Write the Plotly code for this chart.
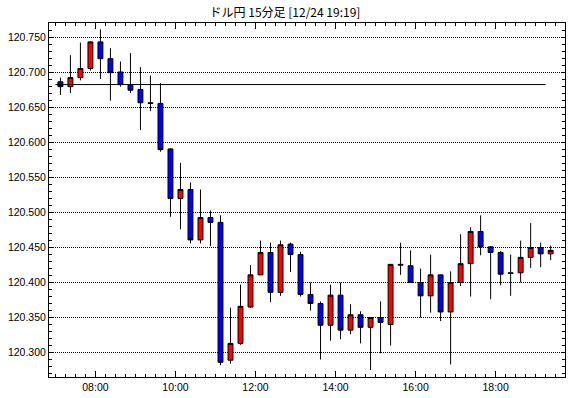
import pandas as pd
import plotly.graph_objects as go

# ---- data ----
times = pd.date_range("2015-12-24 07:00", "2015-12-24 19:15", freq="15min")
opens = [120.687, 120.680, 120.693, 120.706, 120.744, 120.720, 120.701, 120.682, 120.676, 120.657,
         120.656, 120.591, 120.520, 120.533, 120.461, 120.493, 120.486, 120.289, 120.313, 120.365,
         120.411, 120.443, 120.386, 120.455, 120.440, 120.383, 120.370, 120.339, 120.382, 120.332,
         120.354, 120.336, 120.350, 120.340, 120.426, 120.424, 120.400, 120.381, 120.411, 120.358,
         120.400, 120.427, 120.473, 120.451, 120.443, 120.414, 120.414, 120.436, 120.450, 120.441]
highs = [120.693, 120.725, 120.743, 120.745, 120.762, 120.735, 120.716, 120.728, 120.708, 120.696,
         120.685, 120.592, 120.571, 120.543, 120.533, 120.503, 120.496, 120.364, 120.397, 120.425,
         120.460, 120.457, 120.460, 120.457, 120.444, 120.400, 120.373, 120.397, 120.400, 120.369,
         120.359, 120.350, 120.373, 120.426, 120.457, 120.446, 120.420, 120.440, 120.411, 120.416,
         120.469, 120.479, 120.496, 120.452, 120.445, 120.440, 120.460, 120.485, 120.457, 120.453]
lows = [120.668, 120.671, 120.689, 120.703, 120.691, 120.660, 120.680, 120.671, 120.618, 120.645,
        120.587, 120.494, 120.476, 120.456, 120.456, 120.452, 120.282, 120.284, 120.311, 120.364,
        120.411, 120.372, 120.381, 120.415, 120.380, 120.360, 120.290, 120.317, 120.319, 120.326,
        120.313, 120.275, 120.299, 120.310, 120.411, 120.400, 120.350, 120.357, 120.345, 120.283,
        120.395, 120.380, 120.439, 120.376, 120.396, 120.381, 120.400, 120.421, 120.422, 120.432]
closes = [120.680, 120.693, 120.706, 120.744, 120.720, 120.700, 120.683, 120.675, 120.657, 120.656,
          120.590, 120.520, 120.533, 120.461, 120.493, 120.486, 120.286, 120.313, 120.366, 120.411,
          120.443, 120.386, 120.454, 120.440, 120.383, 120.370, 120.339, 120.382, 120.332, 120.354,
          120.336, 120.350, 120.343, 120.426, 120.425, 120.400, 120.381, 120.411, 120.358, 120.400,
          120.427, 120.473, 120.451, 120.443, 120.412, 120.413, 120.436, 120.450, 120.441, 120.446]
ref_price = 120.683
title_text = "ドル円 15分足 [12/24 19:19]"

# candles drawn at the middle of each 15-minute interval
xpos = times + pd.Timedelta(minutes=7.5)

fig = go.Figure()
fig.add_trace(go.Candlestick(
    x=xpos, open=opens, high=highs, low=lows, close=closes,
    increasing=dict(fillcolor="#ff0000", line=dict(color="black", width=1)),
    decreasing=dict(fillcolor="#0000ff", line=dict(color="black", width=1)),
    whiskerwidth=0, showlegend=False, hoverinfo="skip",
))

fig.add_shape(type="line", xref="x", yref="y",
              x0=times[0], x1=times[-1], y0=ref_price, y1=ref_price,
              line=dict(color="black", width=1), layer="above")

fig.update_layout(
    width=570, height=398,
    margin=dict(l=49, r=5, t=23, b=21),
    paper_bgcolor="white", plot_bgcolor="white",
    font=dict(family="Liberation Sans, Arial, sans-serif", size=10.5, color="black"),
    title=dict(text=title_text, x=0.5, xanchor="center", y=1 - 12.5 / 398, yanchor="middle",
               font=dict(family="Noto Sans CJK JP, sans-serif", size=12, color="black")),
    showlegend=False,
    hovermode=False,
)
fig.update_xaxes(
    type="date",
    range=["2015-12-24 06:50:24", "2015-12-24 19:44:00"],
    rangeslider=dict(visible=False),
    showline=True, linecolor="black", linewidth=1, mirror="ticks",
    ticks="inside", ticklen=6, tickcolor="black", tickwidth=1,
    dtick=2 * 3600 * 1000, tick0="2015-12-24 00:00", tickformat="%H:%M",
    showgrid=False, zeroline=False,
    minor=dict(dtick=15 * 60 * 1000, tick0="2015-12-24 00:00", ticks="inside", ticklen=3,
               tickcolor="black", showgrid=False),
)
fig.update_yaxes(
    range=[120.265, 120.771],
    showline=True, linecolor="black", linewidth=1, mirror="ticks",
    ticks="inside", ticklen=4, tickcolor="black", tickwidth=1,
    dtick=0.05, tick0=120.0, tickformat=".3f",
    showgrid=True, gridcolor="black", gridwidth=1, griddash="1px,1px",
    zeroline=False,
    minor=dict(dtick=0.01, ticks="inside", ticklen=3, tickcolor="black", showgrid=False),
)

fig.write_html("out.html", config={"displayModeBar": False, "staticPlot": True},
               post_script="document.body.style.margin='0';document.body.style.overflow='hidden';")
